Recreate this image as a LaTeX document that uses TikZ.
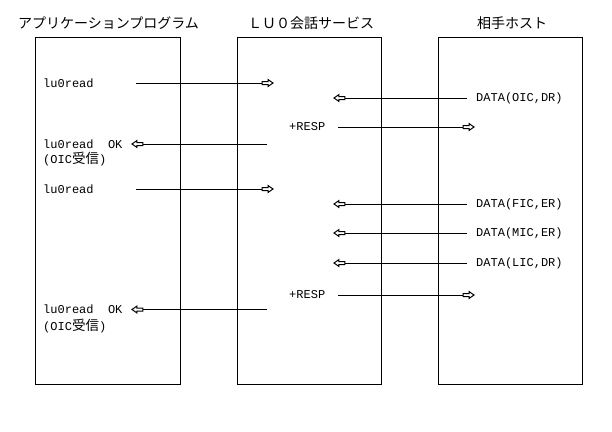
\documentclass[tikz,border=0pt]{standalone}
\usepackage{fontspec}
\setmainfont{Liberation Mono}
\newfontfamily\jp{Noto Sans CJK JP}
\pgfdeclarearrow{
  name = BlkOpen,
  setup code = {
    \pgfarrowssettipend{0pt}
    \pgfarrowssetlineend{-9pt}
    \pgfarrowssetvisualbackend{-11pt}
    \pgfarrowssetbackend{-11pt}
    \pgfarrowshullpoint{0pt}{0pt}
    \pgfarrowsupperhullpoint{-11pt}{3.5pt}
    \pgfarrowsupperhullpoint{-5pt}{3.5pt}
  },
  drawing code = {
    \pgfsetdash{}{0pt}
    \pgfsetmiterjoin
    \pgfsetfillcolor{white}
    \pgfpathmoveto{\pgfqpoint{0pt}{0pt}}
    \pgfpathlineto{\pgfqpoint{-5pt}{3.5pt}}
    \pgfpathlineto{\pgfqpoint{-5pt}{1.5pt}}
    \pgfpathlineto{\pgfqpoint{-11pt}{1.5pt}}
    \pgfpathlineto{\pgfqpoint{-11pt}{-1.5pt}}
    \pgfpathlineto{\pgfqpoint{-5pt}{-1.5pt}}
    \pgfpathlineto{\pgfqpoint{-5pt}{-3.5pt}}
    \pgfpathclose
    \pgfusepathqfillstroke
  }
}
\tikzset{
  lane/.style={draw, line width=1bp, minimum width=144bp, minimum height=347bp, inner sep=0pt},
  title/.style={font=\jp\fontsize{14bp}{15bp}\selectfont, inner sep=0pt},
  lbl/.style={font=\fontsize{12bp}{14bp}\selectfont, inner sep=0pt, anchor=west, align=left},
  msg/.style={line width=1bp, -BlkOpen}
}
\begin{document}
\begin{tikzpicture}[x=1bp, y=-1bp]
\useasboundingbox (0,0) rectangle (612,431);
% lanes
\node[lane] (app) at (108,210.5) {};
\node[lane] (luo) at (309,210.5) {};
\node[lane] (host) at (510.5,210.5) {};
% titles
\node[title] (tapp) at (108.5,23) {アプリケーションプログラム};
\node[title] (tluo) at (311,23) {ＬＵ０会話サービス};
\node[title] (thost) at (512,23) {相手ホスト};
% labels
\node[lbl] (r1) at (43,83) {lu0read};
\node[lbl] (ok1) at (43,144) {lu0read\ \ OK};
\node[lbl] (oic1) at (43,159.5) {(OIC{\jp\fontsize{13.5bp}{14bp}\selectfont 受信})};
\node[lbl] (r2) at (43,189) {lu0read};
\node[lbl] (ok2) at (43,309.5) {lu0read\ \ OK};
\node[lbl] (oic2) at (43,326.5) {(OIC{\jp\fontsize{13.5bp}{14bp}\selectfont 受信})};
\node[lbl] (resp1) at (289,127) {+RESP};
\node[lbl] (resp2) at (289,295) {+RESP};
\node[lbl] (d1) at (476,98) {DATA(OIC,DR)};
\node[lbl] (d2) at (476,204) {DATA(FIC,ER)};
\node[lbl] (d3) at (476,233) {DATA(MIC,ER)};
\node[lbl] (d4) at (476,263) {DATA(LIC,DR)};
% connector ends
\coordinate (a1s) at (136,83);  \coordinate (a1t) at (273,83);
\coordinate (a2s) at (467,98);  \coordinate (a2t) at (334,98);
\coordinate (a3s) at (338,127); \coordinate (a3t) at (474,127);
\coordinate (a4s) at (267,144); \coordinate (a4t) at (132,144);
\coordinate (a5s) at (136,189); \coordinate (a5t) at (273,189);
\coordinate (a6s) at (467,204); \coordinate (a6t) at (334,204);
\coordinate (a7s) at (467,233); \coordinate (a7t) at (334,233);
\coordinate (a8s) at (467,263); \coordinate (a8t) at (334,263);
\coordinate (a9s) at (338,295); \coordinate (a9t) at (474,295);
\coordinate (a10s) at (267,309.5); \coordinate (a10t) at (132,309.5);
% messages
\draw[msg] (a1s) -- (a1t);
\draw[msg] (a2s) -- (a2t);
\draw[msg] (a3s) -- (a3t);
\draw[msg] (a4s) -- (a4t);
\draw[msg] (a5s) -- (a5t);
\draw[msg] (a6s) -- (a6t);
\draw[msg] (a7s) -- (a7t);
\draw[msg] (a8s) -- (a8t);
\draw[msg] (a9s) -- (a9t);
\draw[msg] (a10s) -- (a10t);
\end{tikzpicture}
\end{document}
